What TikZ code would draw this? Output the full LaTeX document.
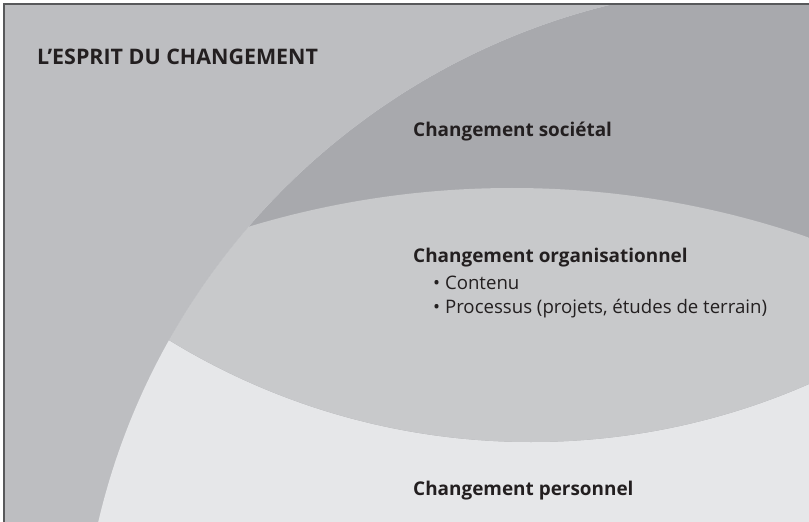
\documentclass[tikz,border=0pt]{standalone}
\usepackage{fontspec}
\setmainfont{Open Sans}
\usetikzlibrary{positioning}
\definecolor{frameline}{HTML}{58595B}
\definecolor{esprit}{HTML}{BDBEC1}
\definecolor{societal}{HTML}{A8A9AD}
\definecolor{organisation}{HTML}{C8C9CB}
\definecolor{personnel}{HTML}{E6E7E9}
\definecolor{inktext}{HTML}{231F20}

\begin{document}
\begin{tikzpicture}[x=1bp, y=-1bp,
    heading/.style={anchor=base west, inner sep=0pt, text=inktext, font=\fontsize{19}{23}\selectfont\bfseries},
    title/.style={heading, font=\fontsize{21.5}{25}\selectfont\bfseries},
    item/.style={anchor=base west, inner sep=0pt, text=inktext, font=\fontsize{18.7}{23}\selectfont}
]
\useasboundingbox (0,0) rectangle (809,522);
\fill[white] (0,0) rectangle (809,522);
\begin{scope}
  \clip (4,4) rectangle (809,522);
  \fill[esprit] (4,4) rectangle (809,522);
  \begin{scope}
    \clip (776,681) circle (696);
    \fill[personnel] (4,4) rectangle (809,522);
    \fill[societal] (531,-251) circle (693);
    \clip (512,1097) circle (909);
    \fill[organisation] (531,-251) circle (693);
  \end{scope}
\end{scope}
\draw[frameline, line width=2bp] (809,4) -- (4,4) -- (4,522);

\node[title](esprit) at (37,65) {L’ESPRIT DU CHANGEMENT};
\node[heading](societe) at (413,137) {Changement sociétal};
\node[heading](orga) at (413,263) {Changement organisationnel};
\node[item](contenu) at ([xshift=20bp, yshift=-26bp]orga.base west) {\textbullet\ Contenu};
\node[item](processus) at ([yshift=-24bp]contenu.base west) {\textbullet\ Processus (projets, études de terrain)};
\node[heading](perso) at (413,495) {Changement personnel};
\end{tikzpicture}
\end{document}
